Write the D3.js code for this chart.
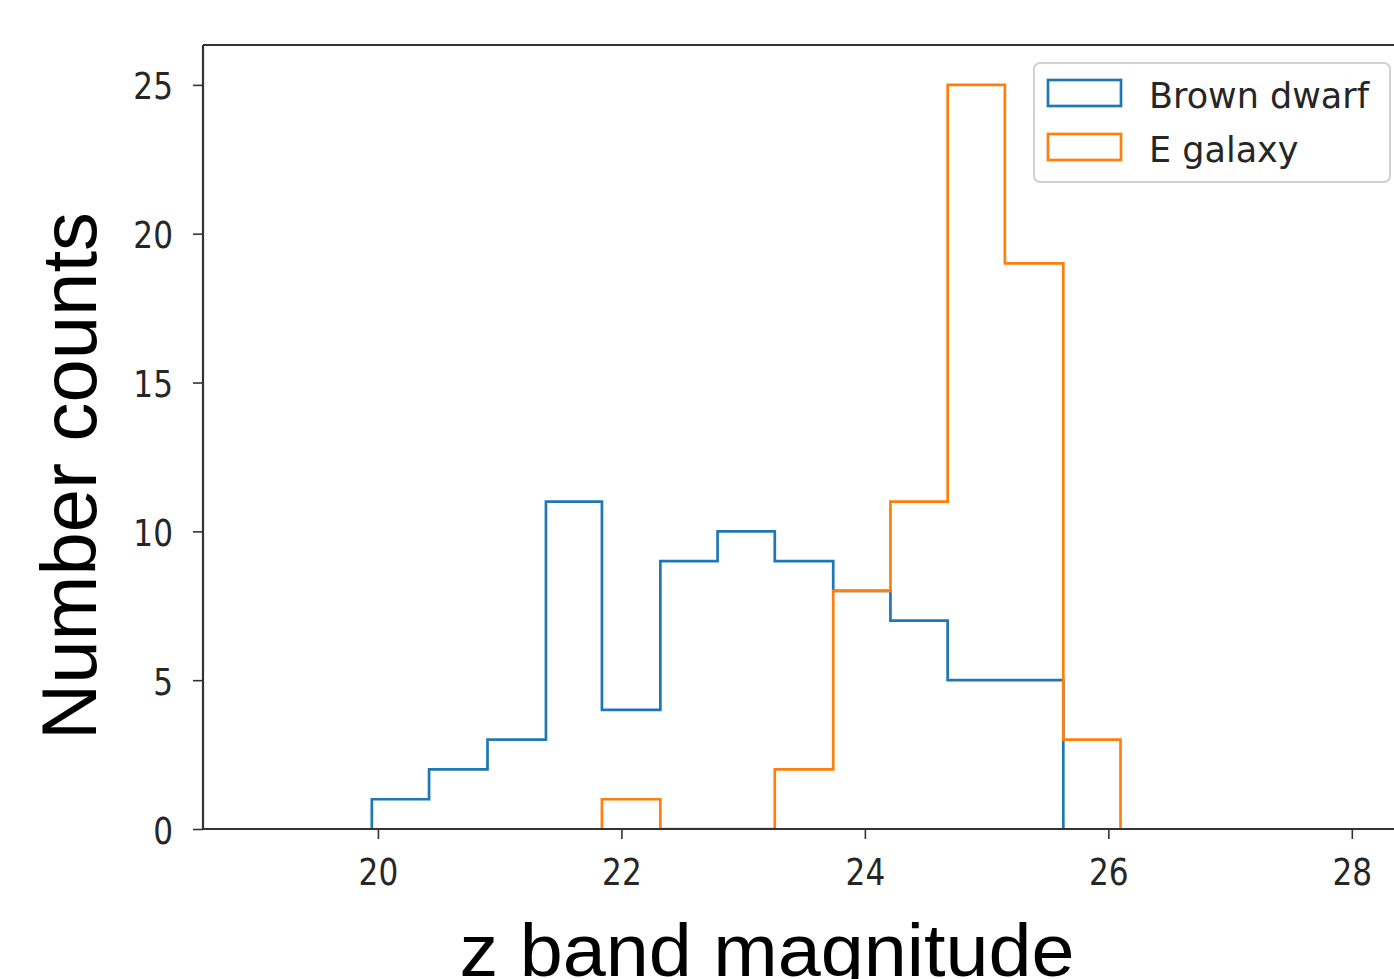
<!DOCTYPE html>
<html>
<head>
<meta charset="utf-8">
<script src="https://cdn.jsdelivr.net/npm/d3@7"></script>
<style>
  html, body { margin: 0; padding: 0; background: #fff; overflow: hidden; }
  svg { display: block; }
</style>
</head>
<body>
<svg id="chart" width="1394" height="979"></svg>
<script>
// ---- data ----
const seriesNames = ["Brown dwarf", "E galaxy"];
const brownEdges = [19.95, 20.42, 20.90, 21.38, 21.84, 22.32, 22.79, 23.26, 23.74, 24.21, 24.68, 25.15, 25.63];
const brownCounts = [1, 2, 3, 11, 4, 9, 10, 9, 8, 7, 5, 5];
const galaxyEdges = [21.84, 22.32, 22.79, 23.26, 23.74, 24.21, 24.68, 25.15, 25.63, 26.10];
const galaxyCounts = [1, 0, 0, 2, 8, 11, 25, 19, 3];
const xTicks = [20, 22, 24, 26, 28];
const yTicks = [0, 5, 10, 15, 20, 25];
const colors = ["#1f77b4", "#ff7f0e"];
const xLabel = "z band magnitude";
const yLabel = "Number counts";

(function () {
// ---- layout ----
const svg = d3.select("#chart");
const mLeft = 203, mRight = 1420, mTop = 45, mBottom = 829;
const x = d3.scaleLinear().domain([18.563, 28.56]).range([mLeft, mRight]);
const y = d3.scaleLinear().domain([0, 26.34]).range([mBottom, mTop]);

function stepPoints(edges, counts) {
  const pts = [[edges[0], 0]];
  counts.forEach((c, i) => { pts.push([edges[i], c]); pts.push([edges[i + 1], c]); });
  pts.push([edges[edges.length - 1], 0]);
  return pts;
}
const line = d3.line().x(d => x(d[0])).y(d => y(d[1]));

svg.append("defs").append("clipPath").attr("id", "clip")
  .append("rect").attr("x", mLeft).attr("y", mTop).attr("width", mRight - mLeft).attr("height", mBottom - mTop);

const marks = svg.append("g").attr("clip-path", "url(#clip)");
marks.append("path").datum(stepPoints(brownEdges, brownCounts))
  .attr("d", line).attr("fill", "none").attr("stroke", colors[0]).attr("stroke-width", 2.7);
marks.append("path").datum(stepPoints(galaxyEdges, galaxyCounts))
  .attr("d", line).attr("fill", "none").attr("stroke", colors[1]).attr("stroke-width", 2.7);

// axes
const tickFont = "'DejaVu Sans', sans-serif";
const xAxis = svg.append("g").attr("transform", `translate(0,${mBottom})`)
  .call(d3.axisBottom(x).tickValues(xTicks).tickSize(10).tickPadding(8).tickFormat(d3.format("d")));
const yAxis = svg.append("g").attr("transform", `translate(${mLeft},0)`)
  .call(d3.axisLeft(y).tickValues(yTicks).tickSize(10).tickPadding(8).tickFormat(d3.format("d")));
[xAxis, yAxis].forEach(a => {
  a.select(".domain").remove();
  a.selectAll(".tick line").attr("stroke", "#333").attr("stroke-width", 1.6);
  a.selectAll(".tick text").attr("fill", "#262626").style("font-family", tickFont).style("font-size", "38px");
});
xAxis.selectAll(".tick text").attr("y", 0).attr("dy", null)
  .attr("transform", "translate(0,56) scale(0.82,1)");
yAxis.selectAll(".tick text").attr("x", 0).attr("dy", null)
  .attr("transform", "translate(-30,14) scale(0.82,1)");

// spines
const spine = svg.append("g").attr("stroke", "#333").attr("stroke-width", 2.2).attr("fill", "none");
spine.append("line").attr("x1", mLeft).attr("x2", mLeft).attr("y1", mTop).attr("y2", mBottom);
spine.append("line").attr("x1", mLeft).attr("x2", mRight).attr("y1", mBottom).attr("y2", mBottom);
spine.append("line").attr("x1", mLeft).attr("x2", mRight).attr("y1", mTop).attr("y2", mTop);

// axis labels
const labelFont = "'Liberation Sans', Arial, sans-serif";
svg.append("text").text(xLabel)
  .attr("x", 767).attr("y", 976).attr("text-anchor", "middle")
  .attr("textLength", 615).attr("lengthAdjust", "spacingAndGlyphs")
  .style("font-family", labelFont).style("font-size", "75px").attr("fill", "#000");
svg.append("text").text(yLabel)
  .attr("transform", "translate(96,476) rotate(-90)").attr("text-anchor", "middle")
  .attr("textLength", 528).attr("lengthAdjust", "spacingAndGlyphs")
  .style("font-family", labelFont).style("font-size", "78px").attr("fill", "#000");

// legend
const lg = svg.append("g");
lg.append("rect").attr("x", 1034).attr("y", 63).attr("width", 356).attr("height", 119)
  .attr("rx", 6).attr("fill", "#fff").attr("fill-opacity", 0.8).attr("stroke", "#d0d0d0").attr("stroke-width", 2);
seriesNames.forEach((name, i) => {
  const yy = 80 + i * 54;
  lg.append("rect").attr("x", 1048).attr("y", yy).attr("width", 73).attr("height", 26)
    .attr("fill", "none").attr("stroke", colors[i]).attr("stroke-width", 2.7);
  lg.append("text").text(name).attr("x", 1149).attr("y", yy + 28)
    .style("font-family", tickFont).style("font-size", "35px").attr("fill", "#262626");
});
})();
</script>
</body>
</html>
